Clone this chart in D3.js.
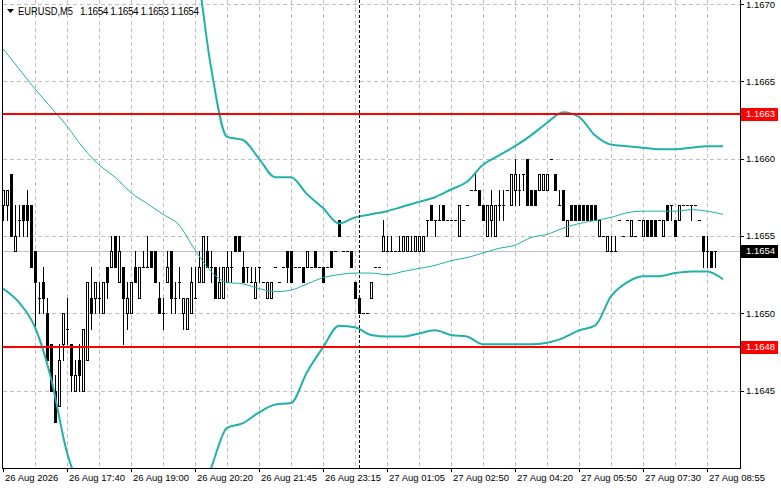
<!DOCTYPE html>
<html>
<head>
<meta charset="utf-8">
<title>EURUSD,M5</title>
<script src="https://d3js.org/d3.v7.min.js"></script>
<style>
  body { margin: 0; background: #fff; }
  text { font-family: "Liberation Sans", Arial, sans-serif; font-size: 9.5px; fill: #000; }
</style>
</head>
<body>
<script>
var width = 781, height = 489;
var plot = {left: 2.5, right: 740, top: 0, bottom: 468};

var symbol = "EURUSD,M5";

// bottom time axis: label text and the bar it sits on
var timeLabels = ["26 Aug 2026", "26 Aug 17:40", "26 Aug 19:00", "26 Aug 20:20", "26 Aug 21:45", "26 Aug 23:15",
  "27 Aug 01:05", "27 Aug 02:50", "27 Aug 04:20", "27 Aug 05:50", "27 Aug 07:30", "27 Aug 08:55"];
var timeLabelBars = [0, 16, 32, 48, 64, 80, 96, 112, 128, 144, 160, 176];

var priceTicks = [1.1645, 1.1650, 1.1655, 1.1660, 1.1665, 1.1670];

// M5 candles, oldest first
var opens = [1.1657,1.1657,1.1659,1.1654,1.1656,1.1657,1.1657,1.1657,1.1654,1.1651,
  1.1652,1.1650,1.1648,1.1645,1.1644,1.1648,1.1649,1.1648,1.1645,1.1647,
  1.1645,1.1647,1.1651,1.1651,1.1651,1.1650,1.1653,1.1653,1.1655,1.1652,
  1.1653,1.1650,1.1650,1.1653,1.1651,1.1653,1.1653,1.1654,1.1654,1.1651,
  1.1650,1.1652,1.1654,1.1651,1.1652,1.1650,1.1649,1.1650,1.1651,1.1652,
  1.1652,1.1654,1.1653,1.1653,1.1651,1.1651,1.1652,1.1653,1.1655,1.1655,
  1.1653,1.1653,1.1652,1.1651,1.1653,1.1652,1.1651,1.1651,1.1653,1.1652,
  1.1653,1.1654,1.1654,1.1653,1.1653,1.1653,1.1653,1.1653,1.1654,1.1653,
  1.1653,1.1653,1.1654,1.1654,1.1656,1.1654,1.1654,1.1654,1.1652,1.1651,
  1.1650,1.1650,1.1651,1.1653,1.1653,1.1654,1.1654,1.1654,1.1654,1.1654,
  1.1654,1.1654,1.1654,1.1654,1.1654,1.1654,1.1656,1.1657,1.1656,1.1656,
  1.1657,1.1656,1.1656,1.1656,1.1655,1.1656,1.1657,1.1658,1.1658,1.1658,
  1.1657,1.1655,1.1656,1.1655,1.1657,1.1657,1.1658,1.1657,1.1658,1.1658,
  1.1659,1.1660,1.1658,1.1658,1.1658,1.1658,1.1658,1.1660,1.1659,1.1657,
  1.1658,1.1655,1.1657,1.1657,1.1657,1.1657,1.1657,1.1657,1.1657,1.1655,
  1.1655,1.1654,1.1654,1.1654,1.1656,1.1655,1.1656,1.1655,1.1655,1.1656,
  1.1655,1.1656,1.1656,1.1656,1.1656,1.1655,1.1657,1.1657,1.1656,1.1656,
  1.1657,1.1657,1.1657,1.1657,1.1656,1.1655,1.1654,1.1654,1.1654];
var highs = [1.1658,1.1658,1.1659,1.1657,1.1657,1.1657,1.1658,1.1657,1.1654,1.1652,
  1.1653,1.1651,1.1648,1.1646,1.1648,1.1650,1.1651,1.1648,1.1647,1.1648,
  1.1649,1.1652,1.1653,1.1652,1.1652,1.1652,1.1653,1.1655,1.1655,1.1655,
  1.1653,1.1652,1.1652,1.1654,1.1653,1.1654,1.1655,1.1654,1.1654,1.1652,
  1.1651,1.1654,1.1654,1.1652,1.1653,1.1651,1.1651,1.1653,1.1653,1.1654,
  1.1655,1.1655,1.1654,1.1653,1.1653,1.1653,1.1654,1.1654,1.1655,1.1655,
  1.1654,1.1653,1.1653,1.1653,1.1653,1.1652,1.1652,1.1652,1.1653,1.1652,
  1.1653,1.1654,1.1654,1.1653,1.1653,1.1653,1.1654,1.1653,1.1654,1.1653,
  1.1653,1.1653,1.1654,1.1654,1.1656,1.1654,1.1654,1.1654,1.1652,1.1651,
  1.1650,1.1650,1.1652,1.1653,1.1653,1.1656,1.1655,1.1655,1.1654,1.1655,
  1.1655,1.1655,1.1655,1.1655,1.1655,1.1655,1.1656,1.1657,1.1656,1.1657,
  1.1657,1.1656,1.1656,1.1656,1.1657,1.1656,1.1657,1.1658,1.1659,1.1658,
  1.1657,1.1657,1.1658,1.1657,1.1658,1.1658,1.1658,1.1659,1.1660,1.1659,
  1.1659,1.1660,1.1658,1.1658,1.1659,1.1659,1.1659,1.1660,1.1659,1.1658,
  1.1658,1.1656,1.1657,1.1657,1.1657,1.1657,1.1657,1.1657,1.1657,1.1656,
  1.1655,1.1655,1.1655,1.1655,1.1656,1.1655,1.1656,1.1656,1.1655,1.1656,
  1.1656,1.1656,1.1656,1.1656,1.1656,1.1656,1.1657,1.1657,1.1656,1.1657,
  1.1657,1.1657,1.1657,1.1657,1.1656,1.1655,1.1655,1.1654,1.1654];
var lows = [1.1656,1.1656,1.1655,1.1654,1.1655,1.1655,1.1655,1.1653,1.1649,1.1650,
  1.1650,1.1647,1.1645,1.1643,1.1644,1.1647,1.1648,1.1645,1.1645,1.1645,
  1.1645,1.1647,1.1649,1.1650,1.1650,1.1650,1.1651,1.1653,1.1653,1.1652,
  1.1648,1.1649,1.1650,1.1652,1.1651,1.1653,1.1653,1.1653,1.1652,1.1650,
  1.1649,1.1652,1.1650,1.1650,1.1651,1.1649,1.1649,1.1650,1.1651,1.1652,
  1.1652,1.1653,1.1652,1.1651,1.1651,1.1651,1.1652,1.1652,1.1654,1.1654,
  1.1652,1.1652,1.1652,1.1651,1.1652,1.1652,1.1651,1.1651,1.1653,1.1652,
  1.1653,1.1652,1.1652,1.1653,1.1653,1.1652,1.1653,1.1653,1.1653,1.1653,
  1.1652,1.1653,1.1653,1.1654,1.1655,1.1654,1.1654,1.1653,1.1651,1.1650,
  1.1650,1.1650,1.1651,1.1653,1.1653,1.1654,1.1654,1.1654,1.1654,1.1654,
  1.1654,1.1654,1.1654,1.1654,1.1654,1.1654,1.1655,1.1656,1.1655,1.1656,
  1.1656,1.1656,1.1656,1.1656,1.1655,1.1656,1.1657,1.1658,1.1658,1.1657,
  1.1656,1.1655,1.1655,1.1655,1.1656,1.1656,1.1658,1.1657,1.1657,1.1657,
  1.1658,1.1657,1.1657,1.1657,1.1658,1.1658,1.1658,1.1660,1.1658,1.1657,
  1.1656,1.1655,1.1656,1.1656,1.1656,1.1656,1.1656,1.1656,1.1656,1.1655,
  1.1655,1.1654,1.1654,1.1654,1.1656,1.1655,1.1656,1.1655,1.1655,1.1656,
  1.1655,1.1655,1.1655,1.1655,1.1656,1.1655,1.1656,1.1656,1.1655,1.1656,
  1.1657,1.1657,1.1656,1.1657,1.1656,1.1653,1.1653,1.1653,1.1653];
var closes = [1.1658,1.1658,1.1655,1.1655,1.1656,1.1656,1.1656,1.1653,1.1652,1.1651,
  1.1651,1.1647,1.1645,1.1643,1.1647,1.1650,1.1649,1.1646,1.1646,1.1646,
  1.1649,1.1652,1.1650,1.1652,1.1651,1.1652,1.1652,1.1654,1.1653,1.1654,
  1.1651,1.1651,1.1652,1.1652,1.1653,1.1653,1.1653,1.1653,1.1652,1.1650,
  1.1650,1.1653,1.1651,1.1651,1.1652,1.1651,1.1651,1.1652,1.1651,1.1653,
  1.1655,1.1653,1.1653,1.1651,1.1652,1.1653,1.1653,1.1653,1.1654,1.1654,
  1.1652,1.1653,1.1652,1.1652,1.1653,1.1652,1.1652,1.1652,1.1653,1.1652,
  1.1653,1.1653,1.1652,1.1653,1.1653,1.1652,1.1654,1.1653,1.1653,1.1653,
  1.1652,1.1653,1.1653,1.1654,1.1655,1.1654,1.1654,1.1653,1.1651,1.1650,
  1.1650,1.1650,1.1652,1.1653,1.1653,1.1655,1.1654,1.1654,1.1654,1.1654,
  1.1655,1.1655,1.1654,1.1655,1.1655,1.1655,1.1656,1.1656,1.1656,1.1656,
  1.1656,1.1656,1.1656,1.1656,1.1657,1.1656,1.1657,1.1658,1.1658,1.1657,
  1.1656,1.1657,1.1657,1.1657,1.1657,1.1657,1.1658,1.1659,1.1659,1.1658,
  1.1659,1.1657,1.1657,1.1657,1.1659,1.1659,1.1659,1.1660,1.1658,1.1657,
  1.1656,1.1656,1.1656,1.1656,1.1656,1.1656,1.1656,1.1656,1.1656,1.1656,
  1.1655,1.1655,1.1654,1.1654,1.1656,1.1655,1.1656,1.1656,1.1655,1.1656,
  1.1656,1.1655,1.1655,1.1655,1.1656,1.1656,1.1656,1.1657,1.1655,1.1657,
  1.1657,1.1657,1.1657,1.1657,1.1656,1.1654,1.1654,1.1653,1.1654];

// Bollinger bands, read every 4th bar
var bandBars = [0,4,8,12,16,20,24,28,32,36,40,44,48,52,56,60,64,68,72,76,80,84,88,92,
  96,100,104,108,112,116,120,124,128,132,136,140,144,148,152,156,160,164,168,172,176,180];
var bandUpper = [1.16826,1.16809,1.16800,1.16808,1.16832,1.16835,1.16830,1.16820,1.16810,1.16795,1.16780,1.16760,
  1.16730,1.16659,1.16614,1.16612,1.16600,1.16588,1.16588,1.16577,1.16568,1.16558,1.16562,1.16564,
  1.16566,1.16569,1.16572,1.16575,1.16580,1.16585,1.16596,1.16602,1.16608,1.16615,1.16623,1.16630,
  1.16627,1.16615,1.16609,1.16608,1.16607,1.16606,1.16606,1.16607,1.16608,1.16608];
var bandMiddle = [1.16671,1.16658,1.16645,1.16633,1.16621,1.16607,1.16596,1.16588,1.16578,1.16571,1.16564,1.16557,
  1.16541,1.16527,1.16520,1.16519,1.16516,1.16514,1.16515,1.16519,1.16523,1.16525,1.16526,1.16526,
  1.16525,1.16527,1.16529,1.16531,1.16534,1.16536,1.16539,1.16542,1.16544,1.16549,1.16551,1.16555,
  1.16558,1.16560,1.16562,1.16565,1.16566,1.16566,1.16566,1.16567,1.16566,1.16564];
var bandLower = [1.16516,1.16507,1.16491,1.16458,1.16410,1.16384,1.16372,1.16370,1.16367,1.16366,1.16367,1.16372,
  1.16376,1.16400,1.16426,1.16429,1.16436,1.16441,1.16442,1.16462,1.16478,1.16492,1.16491,1.16486,
  1.16485,1.16485,1.16487,1.16489,1.16486,1.16485,1.16480,1.16480,1.16480,1.16480,1.16481,1.16484,
  1.16489,1.16492,1.16511,1.16520,1.16524,1.16524,1.16526,1.16527,1.16527,1.16522];

var levels = [1.16629, 1.164785];   // horizontal red lines
var separatorBar = 89;              // vertical dashed line

var svg = d3.select("body")
  .append("svg")
  .attr("width", width)
  .attr("height", height);

var x = d3.scaleLinear().domain([0, 184]).range([3, 739]);
var y = d3.scaleLinear().domain([1.1645, 1.1670]).range([390.7, 3.8]);
var fmt = d3.format(".4f");

svg.append("defs").append("clipPath").attr("id", "plotclip")
  .append("rect")
    .attr("x", 3).attr("y", 0)
    .attr("width", plot.right - 3).attr("height", plot.bottom);

// grid
var grid = svg.append("g").attr("stroke", "#c0c0c0").attr("stroke-dasharray", "4,3").attr("shape-rendering", "crispEdges");
grid.selectAll("line.h")
  .data(priceTicks)
  .enter().append("line")
    .attr("x1", 3).attr("x2", plot.right)
    .attr("y1", function(d) { return Math.round(y(d)) + 0.5; })
    .attr("y2", function(d) { return Math.round(y(d)) + 0.5; });
grid.selectAll("line.v")
  .data(d3.range(8, 184, 8))
  .enter().append("line")
    .attr("y1", 0).attr("y2", plot.bottom)
    .attr("x1", function(d) { return x(d) + 0.5; })
    .attr("x2", function(d) { return x(d) + 0.5; });

// last price line
var last = closes.length - 1;
svg.append("line")
  .attr("x1", 3).attr("x2", plot.right)
  .attr("y1", Math.round(y(closes[last])) + 0.5)
  .attr("y2", Math.round(y(closes[last])) + 0.5)
  .attr("stroke", "#c0c0c0")
  .attr("shape-rendering", "crispEdges");

// candles
var bars = d3.range(opens.length).map(function(i) {
  return {i: i, o: opens[i], h: highs[i], l: lows[i], c: closes[i]};
});
var cg = svg.append("g").attr("shape-rendering", "crispEdges");
cg.selectAll("rect.wick")
  .data(bars)
  .enter().append("rect")
    .attr("x", function(d) { return x(d.i); })
    .attr("y", function(d) { return Math.round(y(d.h)); })
    .attr("width", 1)
    .attr("height", function(d) { return Math.round(y(d.l)) - Math.round(y(d.h)) + 1; })
    .attr("fill", "#000");
cg.selectAll("rect.body")
  .data(bars)
  .enter().append("rect")
    .each(function(d) {
      var top = Math.round(y(Math.max(d.o, d.c)));
      var bot = Math.round(y(Math.min(d.o, d.c)));
      var r = d3.select(this);
      if (d.c > d.o) {
        r.attr("x", x(d.i) - 0.5).attr("y", top + 0.5)
          .attr("width", 2).attr("height", bot - top)
          .attr("fill", "#fff").attr("stroke", "#000");
      } else {
        r.attr("x", x(d.i) - 1).attr("y", top)
          .attr("width", 3).attr("height", bot - top + 1)
          .attr("fill", "#000");
      }
    });

// bands
function bandLine(values) {
  return d3.line()
    .x(function(d, k) { return x(bandBars[k]); })
    .y(function(d) { return y(d); })
    .curve(d3.curveMonotoneX)(values);
}
var bg = svg.append("g").attr("clip-path", "url(#plotclip)").attr("fill", "none").attr("stroke", "#20b2aa");
bg.append("path").attr("d", bandLine(bandUpper)).attr("stroke-width", 2);
bg.append("path").attr("d", bandLine(bandMiddle)).attr("stroke-width", 1);
bg.append("path").attr("d", bandLine(bandLower)).attr("stroke-width", 2);

// horizontal levels
svg.selectAll("line.level")
  .data(levels)
  .enter().append("line")
    .attr("x1", plot.left).attr("x2", plot.right)
    .attr("y1", function(d) { return Math.round(y(d)); })
    .attr("y2", function(d) { return Math.round(y(d)); })
    .attr("stroke", "#ff0000")
    .attr("stroke-width", 2)
    .attr("shape-rendering", "crispEdges");

// vertical separator
svg.append("line")
  .attr("x1", x(separatorBar) + 0.5).attr("x2", x(separatorBar) + 0.5)
  .attr("y1", 0).attr("y2", plot.bottom)
  .attr("stroke", "#000")
  .attr("stroke-dasharray", "3,2")
  .attr("shape-rendering", "crispEdges");

// frame
var frame = svg.append("g").attr("stroke", "#000").attr("shape-rendering", "crispEdges");
frame.append("line").attr("x1", plot.left).attr("x2", plot.left).attr("y1", 0).attr("y2", plot.bottom + 0.5);
frame.append("line").attr("x1", plot.left).attr("x2", plot.right + 0.5).attr("y1", plot.bottom + 0.5).attr("y2", plot.bottom + 0.5);
frame.append("line").attr("x1", plot.right + 0.5).attr("x2", plot.right + 0.5).attr("y1", 0).attr("y2", plot.bottom + 0.5);

// right price axis
var ra = svg.append("g");
ra.selectAll("line")
  .data(priceTicks)
  .enter().append("line")
    .attr("x1", plot.right).attr("x2", plot.right + 4)
    .attr("y1", function(d) { return Math.round(y(d)) + 0.5; })
    .attr("y2", function(d) { return Math.round(y(d)) + 0.5; })
    .attr("stroke", "#000")
    .attr("shape-rendering", "crispEdges");
ra.selectAll("text")
  .data(priceTicks)
  .enter().append("text")
    .attr("x", 746)
    .attr("y", function(d) { return Math.max(y(d), 5); })
    .attr("dy", "0.35em")
    .text(function(d) { return fmt(d); });

// price boxes
function priceBox(value, color) {
  var yy = Math.round(y(value));
  svg.append("rect")
    .attr("x", 741).attr("y", yy - 6)
    .attr("width", 37).attr("height", 13)
    .attr("fill", color);
  svg.append("text")
    .attr("x", 746).attr("y", yy)
    .attr("dy", "0.35em")
    .style("fill", "#fff")
    .text(fmt(value));
}
levels.forEach(function(v) { priceBox(v, "#ff0000"); });
priceBox(closes[last], "#000");

// bottom time axis
var ta = svg.append("g");
ta.selectAll("line")
  .data(timeLabelBars)
  .enter().append("line")
    .attr("x1", function(d) { return x(d) + 0.5; })
    .attr("x2", function(d) { return x(d) + 0.5; })
    .attr("y1", plot.bottom).attr("y2", plot.bottom + 4)
    .attr("stroke", "#000")
    .attr("shape-rendering", "crispEdges");
ta.selectAll("text")
  .data(timeLabelBars)
  .enter().append("text")
    .attr("x", function(d) { return x(d) + 2; })
    .attr("y", 481)
    .text(function(d, k) { return timeLabels[k]; });

// title
svg.append("path")
  .attr("d", "M7,9L14,9L10.5,13Z")
  .attr("fill", "#000");
svg.append("text")
  .attr("x", 18).attr("y", 15)
  .style("font-size", "10px")
  .attr("textLength", 55)
  .attr("lengthAdjust", "spacingAndGlyphs")
  .text(symbol);
svg.append("text")
  .attr("x", 80).attr("y", 15)
  .style("font-size", "10px")
  .attr("textLength", 119)
  .attr("lengthAdjust", "spacing")
  .text([opens[last], highs[last], lows[last], closes[last]].map(fmt).join(" "));
</script>
</body>
</html>
